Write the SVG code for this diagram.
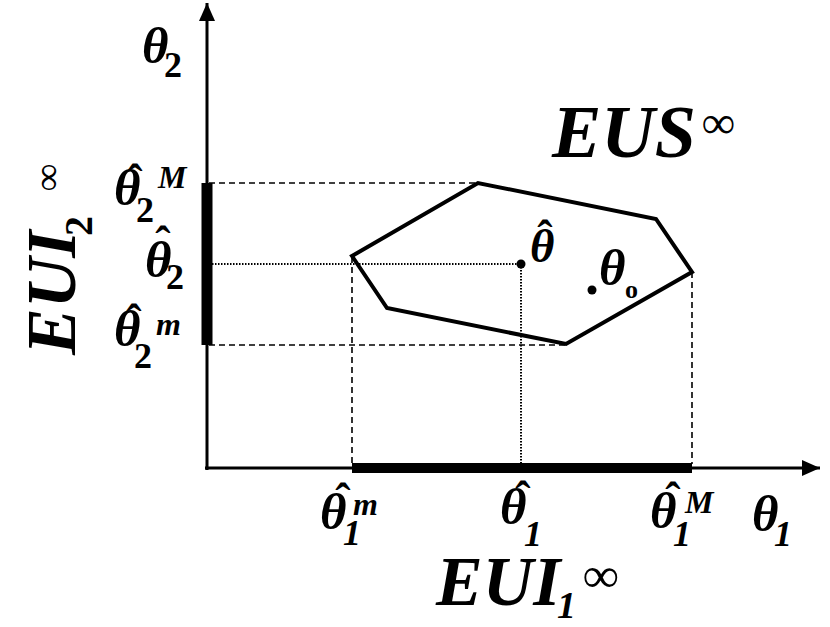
<svg xmlns="http://www.w3.org/2000/svg" width="830" height="627" viewBox="0 0 830 627">
<style>
text{font-family:"Liberation Serif",serif;fill:#000}
.th{font-style:italic;font-weight:bold;font-size:51px}
.sub{font-style:italic;font-weight:bold;font-size:36px}
.sup{font-style:italic;font-weight:bold;font-size:32px}
.hat{font-style:normal;font-weight:bold;font-size:46px}
.big{font-style:italic;font-weight:bold;font-size:70px}
.inf{font-style:normal;font-weight:bold;font-size:50px}
.dash{stroke:#000;stroke-width:1.6;stroke-dasharray:6 4;fill:none}
.dot{stroke:#000;stroke-width:2;stroke-dasharray:1.5 1.5;fill:none}
</style>
<defs>
<marker id="arr" viewBox="0 0 18 16" refX="18" refY="8" markerWidth="18" markerHeight="16" markerUnits="userSpaceOnUse" orient="auto">
<path d="M0,0 L18,8 L0,16 Z" fill="#000"/>
</marker>
</defs>
<g id="connectors">
<line x1="207" y1="470" x2="207" y2="3" stroke="#000" stroke-width="3" marker-end="url(#arr)"/>
<line x1="205" y1="468" x2="820" y2="468" stroke="#000" stroke-width="3" marker-end="url(#arr)"/>
<line x1="207" y1="183" x2="207" y2="345" stroke="#000" stroke-width="11"/>
<line x1="352" y1="468" x2="692" y2="468" stroke="#000" stroke-width="10"/>
<path class="dash" d="M209,183 H477 M209,345 H566 M352,257 V464 M692,272 V464"/>
<path class="dot" d="M209,264 H521 V464"/>
</g>
<g id="eus">
<polygon points="352,256 478,183 656,219 692,272 566,344 387,308" fill="none" stroke="#000" stroke-width="4" stroke-linejoin="miter"/>
<circle cx="521" cy="264" r="4.5" fill="#000"/>
<circle cx="592" cy="290" r="4.5" fill="#000"/>
<text><tspan class="th" x="530" y="262" style="font-size:47px">θ</tspan><tspan class="hat" x="545" y="252" text-anchor="middle">ˆ</tspan></text>
<text><tspan class="th" x="599" y="285">θ</tspan><tspan class="sup" x="625" y="298" style="font-style:normal;font-size:26px">o</tspan></text>
<text><tspan class="big" x="552" y="157" style="font-size:74px">EUS</tspan><tspan class="inf" x="702" y="138" style="font-size:46px">∞</tspan></text>
</g>
<g id="axis-labels">
<text><tspan class="th" x="142" y="63">θ</tspan><tspan class="sub" x="164" y="77" style="font-style:normal">2</tspan></text>
<text><tspan class="th" x="752" y="531">θ</tspan><tspan class="sub" x="774" y="546">1</tspan></text>
</g>
<g id="bottom-labels">
<text><tspan class="th" x="320" y="529">θ</tspan><tspan class="hat" x="343" y="515" text-anchor="middle">ˆ</tspan><tspan class="sub" x="343" y="545">1</tspan><tspan class="sup" x="353" y="515">m</tspan></text>
<text><tspan class="th" x="500" y="524">θ</tspan><tspan class="hat" x="523" y="513" text-anchor="middle">ˆ</tspan><tspan class="sub" x="524" y="546">1</tspan></text>
<text><tspan class="th" x="650" y="528">θ</tspan><tspan class="hat" x="673" y="514" text-anchor="middle">ˆ</tspan><tspan class="sub" x="673" y="546">1</tspan><tspan class="sup" x="685" y="513">M</tspan></text>
</g>
<g id="left-labels">
<text><tspan class="th" x="114" y="205">θ</tspan><tspan class="hat" x="135" y="196" text-anchor="middle">ˆ</tspan><tspan class="sub" x="136" y="222" style="font-style:normal">2</tspan><tspan class="sup" x="158" y="188">M</tspan></text>
<text><tspan class="th" x="145" y="277">θ</tspan><tspan class="hat" x="163" y="258" text-anchor="middle">ˆ</tspan><tspan class="sub" x="166" y="289" style="font-style:normal">2</tspan></text>
<text><tspan class="th" x="114" y="346">θ</tspan><tspan class="hat" x="134" y="336" text-anchor="middle">ˆ</tspan><tspan class="sub" x="134" y="368" style="font-style:normal">2</tspan><tspan class="sup" x="156" y="335">m</tspan></text>
</g>
<g id="eui1">
<text><tspan class="big" x="436" y="605">EUI</tspan><tspan class="sub" x="557" y="618" style="font-size:38px">1</tspan><tspan class="inf" x="583" y="592">∞</tspan></text>
</g>
<g id="eui2" transform="translate(75,355) rotate(-90)">
<text><tspan class="big" x="0" y="0">EUI</tspan><tspan class="sub" x="119" y="17" style="font-style:normal;font-size:40px">2</tspan><tspan class="inf" x="164" y="-15" style="font-size:38px">∞</tspan></text>
</g>
</svg>
